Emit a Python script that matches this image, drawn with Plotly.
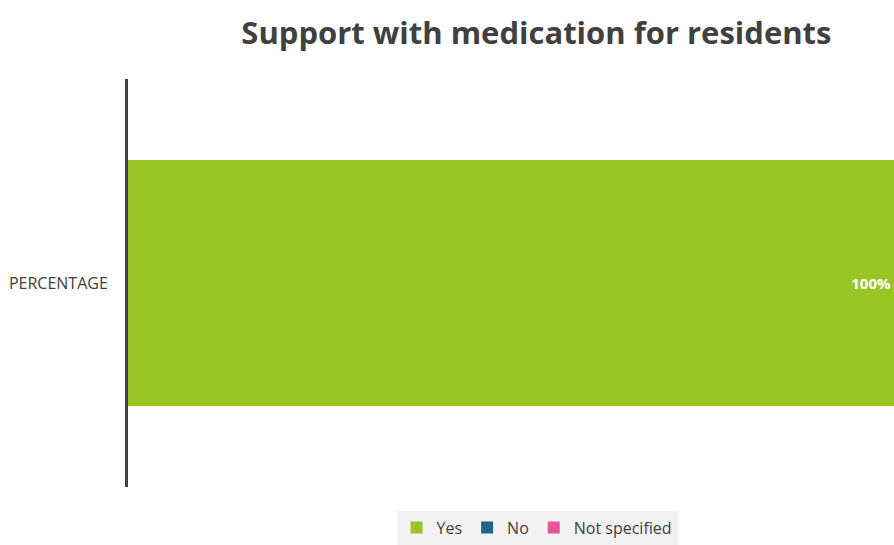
import plotly.graph_objects as go

categories = ["PERCENTAGE"]
series_names = ["Yes", "No", "Not specified"]
yes_values = [100]
no_values = [0]
not_specified_values = [0]
colors = ["#99C624", "#1F6680", "#E8559E"]

fig = go.Figure()
for name, vals, col in zip(series_names, [yes_values, no_values, not_specified_values], colors):
    fig.add_trace(go.Bar(
        y=categories, x=vals, name=name, orientation="h",
        marker=dict(color=col, line=dict(width=0)),
        text=[f"<b>{v}%</b>" if v > 0 else "" for v in vals],
        textposition="inside", insidetextanchor="end",
        textfont=dict(color="white", size=15, family="Open Sans"),
        hoverinfo="x+name",
    ))

fig.update_layout(
    barmode="stack",
    width=894, height=545,
    margin=dict(l=128, r=0, t=79, b=52),
    paper_bgcolor="white", plot_bgcolor="white",
    bargap=0.396,
    title=dict(text="<b>Support with medication for residents</b>",
               x=0.6, xanchor="center", y=0.939, yanchor="middle",
               font=dict(family="Open Sans", size=31, color="#404040")),
    xaxis=dict(range=[0, 100], visible=False, showgrid=False, zeroline=False),
    yaxis=dict(showline=True, linewidth=3, linecolor="#404040", ticks="",
               tickfont=dict(family="Open Sans", size=16, color="#404040"),
               ticklabelstandoff=14, showgrid=False),
    legend=dict(orientation="h", x=0.534, xanchor="center", y=-0.058, yanchor="top",
                bgcolor="#F2F2F2", font=dict(family="Open Sans", size=16, color="#404040"),
                itemsizing="constant", traceorder="normal", itemwidth=30),
    showlegend=True,
)
fig.write_html("out.html", config={"displayModeBar": False},
               post_script="document.body.style.margin='0';")
